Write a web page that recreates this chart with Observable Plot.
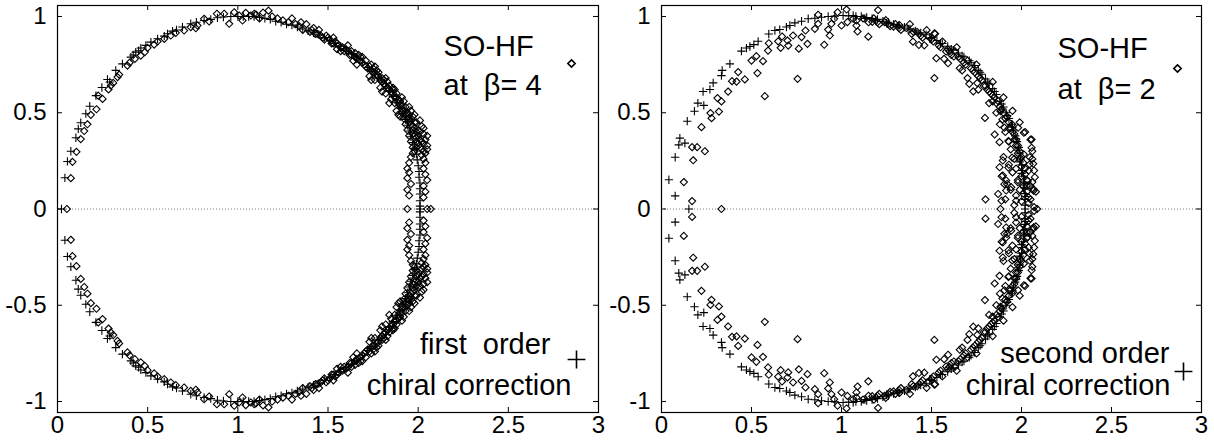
<!DOCTYPE html>
<html><head><meta charset="utf-8">
<script src="https://cdn.jsdelivr.net/npm/d3@7"></script>
<script src="https://cdn.jsdelivr.net/npm/@observablehq/plot@0.6"></script>
<style>
body{margin:0;background:#fff;}
#wrap{display:flex;width:1214px;height:442px;}
svg{font-family:"Liberation Sans",Arial,Helvetica,sans-serif;}
</style></head><body><div id="wrap"></div>
<script>
// ---------- tick values ----------
const xTicks = [0, 0.5, 1, 1.5, 2, 2.5, 3];
const yTicks = [-1, -0.5, 0, 0.5, 1];

// ---------- legend texts ----------
const leftTitle = ["SO-HF", "at\u00a0\u00a0\u03b2= 4"];
const leftCorr = ["first\u00a0\u00a0order", "chiral correction"];
const rightTitle = ["SO-HF", "at\u00a0\u00a0\u03b2= 2"];
const rightCorr = ["second order", "chiral correction"];

// ---------- data: upper half (Im >= 0); spectra are symmetric under complex conjugation ----------
// Left panel (beta = 4): SO-HF eigenvalues (diamonds)
const leftDiamondsUpper = [
[0.052,0],[0.074,0.160],[0.083,0.245],[0.105,0.297],[0.129,0.363],[0.148,0.405],[0.166,0.440],[0.185,0.489],
[0.216,0.518],[0.226,0.589],[0.250,0.572],[0.283,0.621],[0.296,0.641],[0.309,0.655],[0.333,0.685],[0.342,0.698],
[0.388,0.745],[0.400,0.760],[0.429,0.780],[0.462,0.797],[0.484,0.815],[0.499,0.837],[0.536,0.854],[0.555,0.870],
[0.592,0.884],[0.628,0.901],[0.656,0.915],[0.702,0.927],[0.739,0.945],[0.767,0.939],[0.776,0.953],[0.813,0.988],
[0.841,0.974],[0.884,1.014],[0.924,1.014],[0.952,0.962],[0.980,1.022],[1.007,1.005],[1.026,0.979],[1.044,1.019],
[1.072,1.005],[1.091,1.014],
[1.10,1.01],[1.12,0.99],[1.14,1.02],[1.17,1.03],[1.19,1.00],[1.22,0.99],[1.25,0.98],[1.28,0.97],[1.30,0.99],[1.32,0.96],
[1.34,0.95],[1.36,0.93],[1.38,0.96],[1.40,0.92],[1.42,0.94],[1.44,0.91],[1.46,0.90],[1.48,0.88],[1.50,0.89],
[1.52,0.86],[1.54,0.87],[1.56,0.85],[1.58,0.84],[1.57,0.82],[1.60,0.83],[1.62,0.80],[1.63,0.82],[1.65,0.79],[1.67,0.80],[1.64,0.77],
[1.68,0.77],[1.70,0.75],[1.71,0.77],[1.72,0.73],[1.74,0.75],[1.75,0.71],[1.73,0.69],[1.77,0.72],[1.78,0.69],[1.76,0.67],
[1.80,0.68],[1.81,0.65],[1.79,0.63],[1.83,0.66],[1.84,0.62],[1.82,0.60],[1.86,0.63],[1.86,0.60],[1.85,0.57],[1.88,0.60],[1.87,0.55],
[1.89,0.57],[1.90,0.54],[1.88,0.51],[1.92,0.56],[1.91,0.52],[1.90,0.48],[1.93,0.53],[1.94,0.50],[1.92,0.47],[1.96,0.51],[1.95,0.47],
[1.93,0.44],[1.97,0.48],[1.96,0.44],[1.94,0.41],[1.99,0.45],[1.98,0.42],[1.95,0.38],[2.00,0.41],[1.97,0.39],[2.02,0.43],
[1.96,0.35],[1.99,0.37],[2.03,0.39],[1.97,0.32],[2.00,0.34],[2.04,0.36],[1.98,0.30],[2.02,0.31],[2.05,0.33],[2.04,0.29],
[1.96,0.27],[2.03,0.26],[1.95,0.24],[2.04,0.24],[1.94,0.21],[2.03,0.21],[1.95,0.19],[2.04,0.18],[1.94,0.16],[2.05,0.15],
[1.96,0.13],[2.03,0.12],[1.94,0.10],[2.04,0.09],[1.95,0.07],[2.03,0.06],[1.94,0],[2.05,0],[2.07,0],
[1.35,0.97],[1.45,0.93],[1.53,0.89],[1.61,0.85],[1.69,0.79],[1.76,0.74],[1.82,0.68],[1.87,0.62],[1.91,0.58],[1.95,0.53],
[1.98,0.49],[2.01,0.46],[2.03,0.42],[2.05,0.38],[1.55,0.83],[1.66,0.75],[1.74,0.67],[1.80,0.61],[1.84,0.55],[1.89,0.49],
[1.41,0.93],[1.43,0.91],[1.47,0.89],[1.49,0.90],[1.51,0.88],[1.53,0.86],[1.55,0.86],[1.57,0.84],[1.59,0.82],[1.61,0.82],
[1.63,0.80],[1.65,0.81],[1.66,0.78],[1.68,0.79],[1.69,0.76],[1.71,0.74],[1.73,0.74],[1.74,0.72],[1.75,0.73],[1.77,0.70],
[1.78,0.71],[1.79,0.67],[1.80,0.66],[1.81,0.67],[1.82,0.64],[1.83,0.63],[1.84,0.64],[1.85,0.61],[1.86,0.62],[1.87,0.58],
[1.88,0.58],[1.89,0.55],[1.90,0.56],[1.91,0.54],[1.91,0.50],[1.92,0.51],[1.93,0.49],[1.94,0.47],[1.95,0.45],[1.95,0.49],
[1.96,0.46],[1.97,0.43],[1.98,0.45],[1.97,0.41],[1.99,0.40],[1.98,0.38],[2.00,0.38],[2.01,0.40],[1.99,0.35],[2.01,0.36],
[2.02,0.35],[2.03,0.34],[2.01,0.32],[2.03,0.30],[1.99,0.32],[2.05,0.31],[2.02,0.28],[1.97,0.29]
];
// Left panel (beta = 4): first order chiral correction (pluses)
const leftPlusesUpper = [
[0.022,0],[0.041,0.162],[0.055,0.247],[0.074,0.300],[0.102,0.370],[0.115,0.416],[0.129,0.448],[0.157,0.495],
[0.179,0.534],[0.213,0.589],[0.246,0.631],[0.277,0.673],[0.290,0.660],[0.323,0.720],[0.360,0.754],[0.407,0.789],
[0.420,0.800],[0.434,0.815],[0.450,0.822],[0.462,0.836],[0.490,0.850],[0.518,0.867],[0.555,0.884],[0.592,0.898],
[0.610,0.910],[0.638,0.924],[0.660,0.930],[0.693,0.945],[0.739,0.962],[0.770,0.970],[0.813,0.979],[0.850,0.985],
[0.887,0.993],[0.920,0.997],[0.961,1.0],[1.0,1.0],[1.03,1.0],[1.06,1.0],[1.09,1.0],
[1.12,0.995],[1.15,0.99],[1.18,0.985],[1.21,0.975],[1.24,0.97],[1.27,0.96],[1.30,0.955],[1.33,0.945],[1.36,0.935],
[1.39,0.925],[1.42,0.915],[1.45,0.905],[1.48,0.89],[1.51,0.875],[1.54,0.86],[1.57,0.845],[1.60,0.825],[1.63,0.805],
[1.66,0.785],[1.69,0.76],[1.72,0.735],[1.74,0.715],[1.76,0.70],[1.78,0.68],[1.80,0.66],[1.82,0.635],[1.84,0.61],
[1.86,0.585],[1.88,0.555],[1.90,0.525],[1.915,0.495],[1.93,0.465],[1.94,0.435],[1.95,0.405],[1.96,0.375],[1.97,0.345],
[1.98,0.315],[1.99,0.285],[1.995,0.255],[2.0,0.225],[2.005,0.195],[2.005,0.165],[2.01,0.135],[2.01,0.105],[2.01,0.078],
[2.01,0.043],[2.01,0.015],[2.01,0]
];
// Right panel (beta = 2): SO-HF eigenvalues (diamonds)
const rightDiamondsUpper = [
[0.333,0],[0.170,0.041],[0.124,0.140],[0.176,0.253],[0.170,0.321],[0.198,0.321],[0.241,0.300],[0.222,0.425],
[0.278,0.472],[0.272,0.498],[0.319,0.506],[0.311,0.576],[0.333,0.559],[0.370,0.610],[0.392,0.664],[0.417,0.662],
[0.426,0.711],[0.463,0.673],[0.533,0.706],[0.574,0.586],[0.500,0.771],[0.527,0.794],[0.564,0.768],[0.592,0.823],
[0.596,0.861],[0.648,0.871],[0.662,0.837],[0.670,0.896],[0.700,0.875],[0.704,0.849],[0.731,0.901],[0.756,0.676],
[0.763,0.833],[0.778,0.893],[0.800,0.927],[0.811,0.858],[0.852,0.936],[0.870,0.962],[0.870,1.009],[0.904,0.853],
[0.926,0.932],[0.935,0.901],[0.944,0.962],[0.959,0.988],[0.978,1.022],[1.000,0.953],[1.028,1.036],[1.033,0.971],
[1.065,0.988],[1.083,0.953],[1.089,0.922],[1.083,0.979],
[1.149,0.895],[1.203,1.033],[1.171,0.972],[1.246,0.981],[1.289,0.947],[1.322,0.955],[1.397,0.869],[1.430,0.852],
[1.473,0.929],[1.516,0.912],[1.516,0.680],[1.527,0.783],[1.581,0.818],[1.592,0.757],[1.624,0.792],[1.657,0.731],
[1.700,0.680],[1.732,0.611],[1.754,0.654],[1.797,0.473],[1.840,0.559],[1.851,0.387],[1.883,0.508],[1.894,0.465],
[1.905,0.422],[1.927,0.353],[1.948,0.439],[1.981,0.422],[2.013,0.396],[2.056,0.361],[2.056,0.318],[2.045,0.232],
[2.067,0.095],[1.927,0.215],[1.905,0.129],[1.883,0],[1.800,0.050],[2.013,0.284],[2.035,0.146],[1.970,0.043],
[1.948,0.267],[1.878,0.347],[1.878,0.217],[1.896,0.174],[1.870,0.078],[1.889,0.043],[1.915,0.096],[1.943,0.113],
[2.065,0.104],[2.074,0.165],[2.046,0.269],[2.065,0.235],[1.896,0.252],[1.915,0.148],[1.980,0.139],[2.087,0],[2.070,0.010],
[1.12,0.99],[1.15,0.97],[1.18,0.99],[1.21,0.96],[1.24,0.97],[1.27,0.95],[1.30,0.96],[1.33,0.93],[1.36,0.94],[1.39,0.91],
[1.42,0.92],[1.45,0.89],[1.48,0.90],[1.51,0.87],[1.54,0.85],[1.56,0.87],[1.59,0.83],[1.61,0.80],[1.63,0.82],[1.66,0.78],
[1.68,0.76],[1.70,0.77],[1.72,0.73],[1.74,0.71],[1.76,0.69],[1.78,0.67],[1.79,0.64],[1.81,0.62],[1.83,0.60],[1.85,0.58],
[1.86,0.55],[1.88,0.53],[1.90,0.50],[1.91,0.47],[1.93,0.45],[1.94,0.42],[1.96,0.39],[1.97,0.36],[1.98,0.33],[1.99,0.30],
[2.00,0.27],[2.01,0.24],[2.02,0.21],[2.02,0.18],[2.03,0.15],[2.03,0.12],[2.03,0.09],[2.04,0.06],[2.04,0.03],
[1.38,0.96],[1.52,0.91],[1.64,0.84],[1.75,0.75],[1.84,0.66],[1.90,0.58],[1.95,0.51],[1.99,0.45],[2.02,0.40],[2.05,0.36],
[2.06,0.30],[2.06,0.26],[2.07,0.20],[2.06,0.14],[2.08,0.09],[2.05,0.05],
[1.46,0.85],[1.57,0.78],[1.67,0.72],[1.71,0.65],[1.76,0.62],[1.82,0.55],[1.86,0.50],[1.88,0.44],[1.91,0.40],[1.93,0.35],
[1.94,0.31],[1.90,0.27],[1.93,0.23],[1.95,0.19],[1.89,0.17],[1.92,0.13],[1.94,0.10],[1.97,0.07],[1.91,0.05],[1.96,0.02],
[1.20,0.97],[1.26,0.96],[1.32,0.94],[1.40,0.92],[1.44,0.90],[1.50,0.88],[1.55,0.84],[1.60,0.82],[1.65,0.79],[1.69,0.75],
[1.73,0.72],[1.77,0.68],[1.80,0.64],[1.82,0.61],[1.84,0.59],[1.87,0.56],[1.89,0.52],[1.92,0.48],[1.93,0.42],[1.95,0.40],
[1.96,0.36],[1.97,0.33],[1.98,0.29],[1.99,0.26],[2.00,0.22],[2.00,0.17],[2.01,0.12],[2.01,0.08],[2.00,0.04],[1.98,0.15],
[1.97,0.21],[1.96,0.26],[2.04,0.20],[2.05,0.12],[1.99,0.10]
];
// Right panel (beta = 2): second order chiral correction (pluses)
const rightPlusesUpper = [
[0.152,0],[0.041,0.152],[0.076,0.068],[0.076,0.269],[0.102,0.368],[0.096,0.333],[0.130,0.342],[0.143,0.456],
[0.183,0.508],[0.202,0.550],[0.235,0.538],[0.231,0.610],[0.269,0.621],[0.287,0.655],[0.333,0.693],[0.337,0.720],
[0.380,0.754],[0.444,0.820],[0.472,0.836],[0.491,0.844],[0.513,0.854],[0.537,0.871],[0.596,0.909],[0.630,0.927],
[0.657,0.932],[0.694,0.945],[0.713,0.953],[0.741,0.967],[0.778,0.975],[0.815,0.988],[0.852,0.991],[0.889,0.996],
[0.926,1.0],[0.963,1.002],[1.009,1.005],[1.040,1.003],[1.065,1.005],
[1.08,1.0],[1.11,1.0],[1.14,0.995],[1.17,0.99],[1.20,0.985],[1.23,0.975],[1.26,0.97],[1.29,0.96],[1.32,0.955],
[1.35,0.945],[1.38,0.935],[1.41,0.925],[1.44,0.915],[1.47,0.905],[1.50,0.89],[1.53,0.875],[1.56,0.86],[1.59,0.845],
[1.62,0.825],[1.65,0.81],[1.68,0.79],[1.71,0.77],[1.74,0.745],[1.76,0.72],[1.78,0.70],[1.80,0.675],[1.82,0.65],
[1.84,0.625],[1.86,0.595],[1.88,0.56],[1.90,0.53],[1.915,0.50],[1.93,0.47],[1.945,0.44],[1.955,0.41],[1.965,0.38],
[1.975,0.35],[1.985,0.32],[1.99,0.29],[1.995,0.26],[2.0,0.23],[2.005,0.20],[2.01,0.17],[2.015,0.14],[2.015,0.11],
[2.02,0.08],[2.02,0.05],[2.02,0.02],[2.02,0],
[1.13,0.99],[1.19,0.98],[1.25,0.965],[1.31,0.95],[1.37,0.935],[1.43,0.91],[1.49,0.885],[1.55,0.86],[1.61,0.83],
[1.67,0.795],[1.72,0.76],[1.77,0.71],[1.81,0.66],[1.85,0.61],[1.89,0.545],[1.92,0.485],[1.95,0.425],[1.97,0.365],
[1.98,0.305],[1.99,0.245],[2.0,0.185],[2.01,0.125],[2.02,0.065]
];

const withConjugates = pts => pts.flatMap(([x, y]) => y > 0 ? [[x, y], [x, -y]] : [[x, y]]);

const H = 442, MT = 5, MB = 30;

function panel(o) {
  const innerW = o.width - o.marginLeft - o.marginRight;
  const innerH = H - MT - MB;
  const tickLen = 5;
  return Plot.plot({
    width: o.width, height: H,
    marginLeft: o.marginLeft, marginRight: o.marginRight, marginTop: MT, marginBottom: MB,
    x: {domain: [0, 3]},
    y: {domain: [-1.057, 1.057]},
    style: {fontFamily: '"Liberation Sans", Arial, sans-serif', fontSize: "24px", color: "#000", background: "#fff"},
    marks: [
      Plot.ruleY([0], {stroke: "#777", strokeWidth: 1, strokeDasharray: "1,2"}),
      Plot.dot(withConjugates(o.diamonds), {x: d => d[0], y: d => d[1], symbol: "diamond2", r: 3.2, stroke: "#000", fill: "none", strokeWidth: 1.1}),
      Plot.dot(withConjugates(o.pluses), {x: d => d[0], y: d => d[1], symbol: "plus", r: 2.8, stroke: "#000", fill: "none", strokeWidth: 1.1}),
      Plot.frame({stroke: "#000", strokeWidth: 1.2}),
      Plot.tickX(xTicks, {x: d => d, insetTop: innerH - tickLen, stroke: "#000"}),
      Plot.tickX(xTicks, {x: d => d, insetBottom: innerH - tickLen, stroke: "#000"}),
      Plot.tickY(yTicks, {y: d => d, insetRight: innerW - tickLen, stroke: "#000"}),
      Plot.tickY(yTicks, {y: d => d, insetLeft: innerW - tickLen, stroke: "#000"}),
      Plot.axisX({ticks: xTicks, tickSize: 0, tickPadding: 3, tickFormat: d => String(d), label: null}),
      Plot.axisY({ticks: yTicks, tickSize: 0, tickPadding: 11, tickFormat: d => String(d), label: null}),
      Plot.text([o.title[0]], {text: d => d, frameAnchor: "top-left", dx: o.title0[0], dy: o.title0[1], textAnchor: "start", lineAnchor: "bottom", fontSize: 29}),
      Plot.text([o.title[1]], {text: d => d, frameAnchor: "top-left", dx: o.title1[0], dy: o.title1[1], textAnchor: "start", lineAnchor: "bottom", fontSize: 29}),
      Plot.text([o.corr[0]], {text: d => d, frameAnchor: "top-left", dx: o.corr0[0], dy: o.corr0[1], textAnchor: "end", lineAnchor: "bottom", fontSize: 29}),
      Plot.text([o.corr[1]], {text: d => d, frameAnchor: "top-left", dx: o.corr1[0], dy: o.corr1[1], textAnchor: "end", lineAnchor: "bottom", fontSize: 29}),
      Plot.dot([0], {frameAnchor: "top-left", dx: o.keyD[0], dy: o.keyD[1], symbol: "diamond2", r: 3.3, stroke: "#000", fill: "none", strokeWidth: 1.6}),
      Plot.dot([0], {frameAnchor: "top-left", dx: o.keyP[0], dy: o.keyP[1], symbol: "plus", r: 5.8, stroke: "#000", fill: "none", strokeWidth: 1.6})
    ]
  });
}

const wrap = document.getElementById("wrap");
wrap.appendChild(panel({
  width: 607, marginLeft: 57, marginRight: 9,
  diamonds: leftDiamondsUpper, pluses: leftPlusesUpper,
  title: leftTitle, corr: leftCorr,
  title0: [386, 50], title1: [386, 89], corr0: [493, 348], corr1: [514, 389],
  keyD: [514, 58], keyP: [519, 354]
}));
wrap.appendChild(panel({
  width: 607, marginLeft: 54, marginRight: 13,
  diamonds: rightDiamondsUpper, pluses: rightPlusesUpper,
  title: rightTitle, corr: rightCorr,
  title0: [396, 52], title1: [396, 93], corr0: [508, 357], corr1: [509, 389],
  keyD: [516, 63], keyP: [522, 366]
}));
</script>
</body></html>
